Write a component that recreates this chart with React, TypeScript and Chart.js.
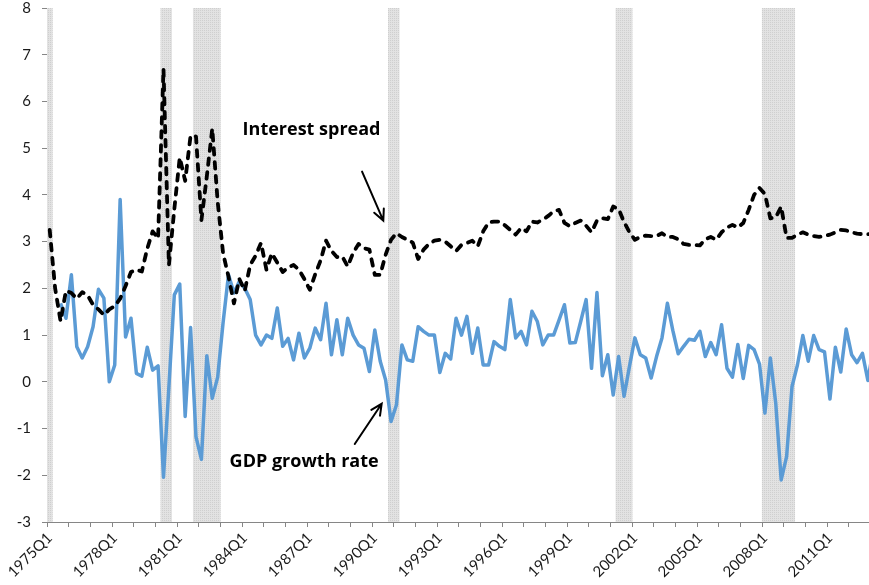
import { useEffect, useRef } from 'react';
import { Chart, registerables } from 'chart.js';

Chart.register(...registerables);

// ---------- data ----------
const START_YEAR = 1975;
const N_QUARTERS = 153;
const CATEGORIES: string[] = [];
for (let k = 0; k < N_QUARTERS; k++) {
  CATEGORIES.push(`${START_YEAR + Math.floor(k / 4)}Q${(k % 4) + 1}`);
}

const TICK_LABELS = [
  '1975Q1', '1978Q1', '1981Q1', '1984Q1', '1987Q1', '1990Q1', '1993Q1',
  '1996Q1', '1999Q1', '2002Q1', '2005Q1', '2008Q1', '2011Q1',
];

const Y_MIN = -3;
const Y_MAX = 8;

const RECESSION_QUARTERS = [
  '1975Q1',
  '1980Q2', '1980Q3',
  '1981Q4', '1982Q1', '1982Q2', '1982Q3', '1982Q4',
  '1990Q4', '1991Q1',
  '2001Q2', '2001Q3', '2001Q4',
  '2008Q1', '2008Q2', '2008Q3', '2008Q4', '2009Q1', '2009Q2',
];

const GDP_GROWTH: (number | null)[] = [
  null, null, 1.68, 1.36, 2.29, 0.75, 0.51, 0.75, 1.18, 1.98,
  1.79, 0.0, 0.36, 3.9, 0.96, 1.36, 0.18, 0.12, 0.74, 0.25,
  0.34, -2.04, -0.1, 1.86, 2.09, -0.74, 1.16, -1.18, -1.66, 0.56,
  -0.35, 0.1, 1.27, 2.29, 1.9, 2.15, 2.0, 1.76, 1.0, 0.79,
  1.0, 0.93, 1.58, 0.76, 0.93, 0.47, 1.04, 0.51, 0.72, 1.15,
  0.9, 1.68, 0.58, 1.33, 0.58, 1.36, 1.0, 0.79, 0.72, 0.22,
  1.11, 0.44, 0.04, -0.85, -0.49, 0.79, 0.47, 0.44, 1.18, 1.08,
  1.0, 1.0, 0.2, 0.61, 0.49, 1.36, 1.0, 1.4, 0.61, 1.15,
  0.36, 0.36, 0.86, 0.76, 0.69, 1.76, 0.94, 1.08, 0.79, 1.51,
  1.29, 0.79, 1.0, 1.0, 1.32, 1.65, 0.83, 0.84, 1.29, 1.76,
  0.29, 1.91, 0.13, 0.58, -0.28, 0.54, -0.31, 0.33, 0.94, 0.58,
  0.51, 0.08, 0.54, 0.94, 1.68, 1.1, 0.6, 0.76, 0.91, 0.89,
  1.08, 0.54, 0.84, 0.58, 1.22, 0.29, 0.1, 0.8, 0.07, 0.78,
  0.69, 0.38, -0.67, 0.51, -0.46, -2.1, -1.6, -0.1, 0.36, 0.99,
  0.44, 0.99, 0.69, 0.64, -0.37, 0.74, 0.21, 1.13, 0.58, 0.41,
  0.61, 0.03, 0.7,
];

const INTEREST_SPREAD: number[] = [
  3.25, 2.0, 1.3, 1.95, 1.9, 1.78, 1.92, 1.85, 1.65, 1.55,
  1.43, 1.55, 1.62, 1.78, 2.05, 2.35, 2.4, 2.36, 2.85, 3.22,
  3.07, 6.7, 2.5, 3.7, 4.8, 4.3, 5.27, 5.25, 3.46, 4.4,
  5.42, 3.85, 2.75, 2.25, 1.68, 2.2, 1.95, 2.5, 2.7, 2.97,
  2.4, 2.75, 2.55, 2.35, 2.45, 2.5, 2.4, 2.2, 1.97, 2.3,
  2.6, 3.02, 2.8, 2.67, 2.68, 2.47, 2.76, 2.95, 2.86, 2.83,
  2.29, 2.29, 2.72, 3.04, 3.18, 3.1, 3.04, 2.98, 2.63, 2.83,
  2.95, 3.02, 3.04, 3.0, 2.9, 2.8, 2.93, 2.97, 3.02, 2.9,
  3.22, 3.41, 3.43, 3.43, 3.35, 3.25, 3.15, 3.29, 3.22, 3.43,
  3.41, 3.47, 3.55, 3.65, 3.68, 3.4, 3.33, 3.4, 3.45, 3.34,
  3.2, 3.45, 3.5, 3.48, 3.75, 3.7, 3.42, 3.2, 3.04, 3.1,
  3.13, 3.12, 3.12, 3.18, 3.1, 3.1, 3.05, 2.95, 2.93, 2.93,
  2.92, 3.05, 3.1, 3.04, 3.2, 3.3, 3.36, 3.3, 3.4, 3.68,
  4.0, 4.15, 4.02, 3.5, 3.52, 3.75, 3.08, 3.08, 3.15, 3.2,
  3.15, 3.12, 3.1, 3.12, 3.15, 3.2, 3.25, 3.24, 3.2, 3.17,
  3.16, 3.16, 3.16,
];

// annotation anchors in data units: [category index, value]
const LABEL_SPREAD = { text: 'Interest spread', at: [35.6, 5.4] };
const ARROW_SPREAD = { from: [57.65, 4.5], to: [61.57, 3.45] };
const LABEL_GDP = { text: 'GDP growth rate', at: [33.2, -1.71] };
const ARROW_GDP = { from: [56.3, -1.33], to: [61.27, -0.47] };

const FONT = 'Lato, "Open Sans", sans-serif';
const ANNOT_FONT = '"Open Sans", Lato, sans-serif';
const AXIS_GRAY = '#868686';

function makeShadePattern(): CanvasPattern | string {
  const c = document.createElement('canvas');
  c.width = 2;
  c.height = 2;
  const g = c.getContext('2d');
  if (!g) return '#dddddd';
  g.fillStyle = '#e2e2e2';
  g.fillRect(0, 0, 2, 2);
  g.fillStyle = '#cfcfcf';
  g.fillRect(0, 0, 1, 1);
  return g.createPattern(c, 'repeat') || '#dddddd';
}

const annotationPlugin = {
  id: 'textArrows',
  afterDatasetsDraw(chart: any) {
    const { ctx, scales } = chart;
    const xs = scales.x;
    const ys = scales.y;
    const px = (p: number[]) => [xs.getPixelForValue(p[0]), ys.getPixelForValue(p[1])];
    ctx.save();
    ctx.fillStyle = '#000';
    ctx.font = `bold 18px ${ANNOT_FONT}`;
    ctx.textAlign = 'left';
    ctx.textBaseline = 'middle';
    for (const l of [LABEL_SPREAD, LABEL_GDP]) {
      const [x, y] = px(l.at);
      ctx.fillText(l.text, x, y);
    }
    ctx.strokeStyle = '#000';
    ctx.lineWidth = 2;
    ctx.lineCap = 'round';
    for (const a of [ARROW_SPREAD, ARROW_GDP]) {
      const [x0, y0] = px(a.from);
      const [x1, y1] = px(a.to);
      const ang = Math.atan2(y1 - y0, x1 - x0);
      const head = 12;
      ctx.beginPath();
      ctx.moveTo(x0, y0);
      ctx.lineTo(x1, y1);
      ctx.moveTo(x1 - head * Math.cos(ang - 0.45), y1 - head * Math.sin(ang - 0.45));
      ctx.lineTo(x1, y1);
      ctx.lineTo(x1 - head * Math.cos(ang + 0.45), y1 - head * Math.sin(ang + 0.45));
      ctx.stroke();
    }
    ctx.restore();
  },
};

export default function App() {
  const ref = useRef<HTMLCanvasElement | null>(null);

  useEffect(() => {
    if (!ref.current) return;
    const recessionBars = CATEGORIES.map((c) =>
      RECESSION_QUARTERS.includes(c) ? [Y_MIN, Y_MAX] : null
    );
    const chart = new Chart(ref.current, {
      type: 'bar',
      data: {
        labels: CATEGORIES,
        datasets: [
          {
            type: 'line',
            label: 'Interest spread',
            data: INTEREST_SPREAD,
            borderColor: '#000000',
            borderWidth: 3.8,
            borderDash: [6.5, 7.5],
            borderCapStyle: 'round',
            borderJoinStyle: 'round',
            pointRadius: 0,
            tension: 0,
            order: 1,
          },
          {
            type: 'line',
            label: 'GDP growth rate',
            data: GDP_GROWTH,
            borderColor: '#5b9bd5',
            borderWidth: 3.5,
            borderJoinStyle: 'round',
            pointRadius: 0,
            tension: 0,
            spanGaps: false,
            order: 2,
          },
          {
            type: 'bar',
            label: 'Recession',
            data: recessionBars as any,
            backgroundColor: makeShadePattern() as any,
            borderWidth: 0,
            categoryPercentage: 1.0,
            barPercentage: 1.0,
            order: 3,
          },
        ],
      },
      options: {
        responsive: false,
        animation: false,
        layout: { padding: { top: 8, left: 0, right: 0, bottom: 0 } },
        plugins: {
          legend: { display: false },
          tooltip: { enabled: false },
        },
        scales: {
          x: {
            offset: true,
            grid: {
              offset: true,
              drawOnChartArea: false,
              drawTicks: true,
              tickLength: 5,
              color: (c: any) => (c.index % 4 === 0 ? AXIS_GRAY : 'rgba(0,0,0,0)'),
            },
            border: { display: true, color: AXIS_GRAY, width: 1 },
            ticks: {
              autoSkip: false,
              maxRotation: 45,
              minRotation: 45,
              padding: 2,
              color: '#1a1a1a',
              font: { family: FONT, size: 15 },
              callback: (_v: any, i: number) =>
                TICK_LABELS.includes(CATEGORIES[i]) ? CATEGORIES[i] : '',
            },
            afterFit: (s: any) => {
              s.height = 63;
              s.paddingLeft = 0;
              s.paddingRight = 0;
            },
          },
          y: {
            min: Y_MIN,
            max: Y_MAX,
            grid: {
              drawOnChartArea: false,
              drawTicks: true,
              tickLength: 5,
              color: AXIS_GRAY,
            },
            border: { display: true, color: AXIS_GRAY, width: 1 },
            ticks: {
              stepSize: 1,
              padding: 11,
              color: '#1a1a1a',
              font: { family: FONT, size: 15 },
              callback: (v: any) => String(v),
            },
            afterFit: (s: any) => {
              s.width = 47;
              s.paddingTop = 0;
              s.paddingBottom = 0;
            },
          },
        },
      },
      plugins: [annotationPlugin],
    } as any);
    return () => chart.destroy();
  }, []);

  return (
    <div
      style={{
        position: 'fixed',
        left: 0,
        top: 0,
        width: 869,
        height: 585,
        overflow: 'hidden',
        background: '#fff',
      }}
    >
      <canvas ref={ref} width={876} height={585} style={{ display: 'block' }} />
    </div>
  );
}
